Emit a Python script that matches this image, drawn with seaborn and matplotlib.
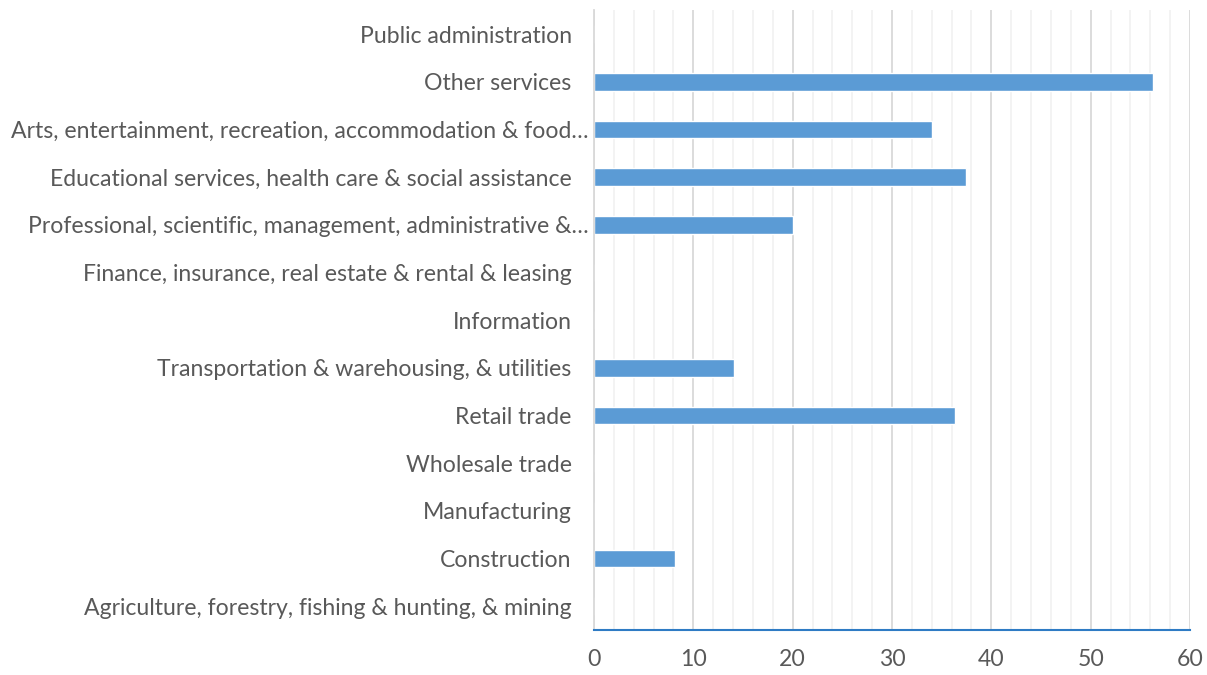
import matplotlib
matplotlib.use("Agg")
import matplotlib.pyplot as plt
import matplotlib.transforms as mtransforms
from matplotlib.ticker import MultipleLocator, FixedLocator
import seaborn as sns
import pandas as pd

# industries, top to bottom as shown
industries = [
    "Public administration",
    "Other services",
    "Arts, entertainment, recreation, accommodation & food\u2026",
    "Educational services, health care & social assistance",
    "Professional, scientific, management, administrative &\u2026",
    "Finance, insurance, real estate & rental & leasing",
    "Information",
    "Transportation & warehousing, & utilities",
    "Retail trade",
    "Wholesale trade",
    "Manufacturing",
    "Construction",
    "Agriculture, forestry, fishing & hunting, & mining",
]
values = [0, 56.3, 34.0, 37.5, 20.0, 0, 0, 14.1, 36.3, 0, 0, 8.2, 0]

df = pd.DataFrame({"industry": industries, "value": values})

sns.set_style("white")
plt.rcParams["font.family"] = ["Lato", "DejaVu Sans"]

fig = plt.figure(figsize=(12.07, 6.75), dpi=100)
ax = fig.add_axes([0.4921, 0.0667, 0.4938, 0.918])

sns.barplot(data=df, x="value", y="industry", orient="h", color="#5B9BD5",
            width=0.37, saturation=1, ax=ax)

ax.set_xlim(0, 60)
ax.set_ylim(12.5, -0.5)
ax.xaxis.set_major_locator(MultipleLocator(10))
ax.xaxis.set_minor_locator(MultipleLocator(2))
ax.grid(axis="x", which="major", color="#D9D9D9", linewidth=1.3)
ax.grid(axis="x", which="minor", color="#F2F2F2", linewidth=1.3)
ax.set_axisbelow(True)

ax.yaxis.set_minor_locator(FixedLocator([i - 0.5 for i in range(14)]))
ax.tick_params(axis="y", which="major", length=0, pad=16, labelsize=16.6, labelcolor="#595959")
ax.tick_params(axis="y", which="minor", length=6, color="#D9D9D9", width=1.3)
ax.tick_params(axis="x", which="both", length=0, pad=14, labelsize=16.6, labelcolor="#595959")

# truncated labels sit a little further right, like in the original
shift = mtransforms.ScaledTranslation(17 / 100, 0, fig.dpi_scale_trans)
for lab in ax.get_yticklabels():
    if lab.get_text().endswith("\u2026"):
        lab.set_transform(lab.get_transform() + shift)

for s in ["top", "right"]:
    ax.spines[s].set_visible(False)
ax.spines["left"].set_color("#D9D9D9")
ax.spines["left"].set_linewidth(1.3)
ax.spines["bottom"].set_color("#2E7BC4")
ax.spines["bottom"].set_linewidth(1.5)

ax.set_xlabel("")
ax.set_ylabel("")

fig.savefig("out.png", dpi=100)
